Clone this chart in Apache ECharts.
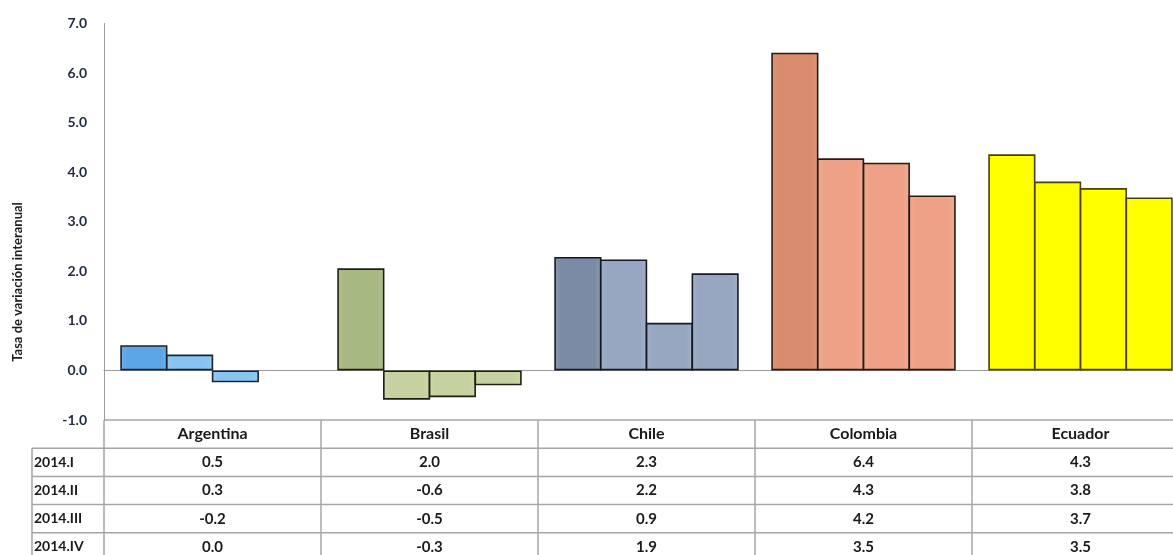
<!DOCTYPE html>
<html>
<head>
<meta charset="utf-8">
<script src="https://cdn.jsdelivr.net/npm/echarts@6/dist/echarts.min.js"></script>
<style>
html,body{margin:0;padding:0;background:#fff;overflow:hidden;}
#c{width:1190px;height:555px;}
</style>
</head>
<body>
<div id="c"></div>
<script>
var countries = ['Argentina', 'Brasil', 'Chile', 'Colombia', 'Ecuador'];
var quarters = ['2014.I', '2014.II', '2014.III', '2014.IV'];
// bar heights (per quarter, per country)
var q1 = [0.51, 2.06, 2.29, 6.41, 4.36];
var q2 = [0.32, -0.59, 2.24, 4.28, 3.81];
var q3 = [-0.24, -0.54, 0.96, 4.19, 3.68];
var q4 = [0.0, -0.30, 1.96, 3.53, 3.49];
// table texts
var t1 = ['0.5', '2.0', '2.3', '6.4', '4.3'];
var t2 = ['0.3', '-0.6', '2.2', '4.3', '3.8'];
var t3 = ['-0.2', '-0.5', '0.9', '4.2', '3.7'];
var t4 = ['0.0', '-0.3', '1.9', '3.5', '3.5'];
var yTicks = [-1, 0, 1, 2, 3, 4, 5, 6, 7];
var yTitle = 'Tasa de variación interanual';

var firstColors = ['#5DA5E6', '#A8B883', '#7B8BA5', '#D98B6D', '#FFFF00'];
var restColors  = ['#88C4F2', '#C5D29F', '#97A7C1', '#EFA187', '#FFFF00'];
var borderColors = ['#1b2430', '#1d2010', '#131a26', '#2a1a12', '#4a4000'];

var FONT = 'Lato, "Open Sans", sans-serif';
var chart = echarts.init(document.getElementById('c'), null, {renderer: 'canvas'});

function grad(c) {
  var l = echarts.color.lift(c, 0.12);
  return new echarts.graphic.LinearGradient(0, 0, 1, 0, [
    {offset: 0, color: l}, {offset: 0.15, color: c}, {offset: 0.85, color: c}, {offset: 1, color: l}
  ]);
}

var seriesVals = [q1, q2, q3, q4];
var series = seriesVals.map(function (vals, qi) {
  return {
    name: quarters[qi],
    type: 'bar',
    barGap: '-3%',
    barCategoryGap: '15%',
    data: vals.map(function (v, ci) {
      var col = qi === 0 ? firstColors[ci] : restColors[ci];
      return {
        value: v,
        itemStyle: {
          color: ci === 4 ? col : grad(col),
          borderColor: borderColors[ci],
          borderWidth: v === 0 ? 0 : 1.6
        }
      };
    })
  };
});

chart.setOption({
  animation: false,
  backgroundColor: '#fff',
  grid: {left: 104, top: 23.5, width: 1085, height: 396.5, containLabel: false},
  xAxis: {
    type: 'category',
    data: countries,
    axisLine: {onZero: true, lineStyle: {color: '#9a9a9a', width: 1}},
    axisTick: {show: false},
    axisLabel: {show: false},
    splitLine: {show: false}
  },
  yAxis: {
    type: 'value',
    min: yTicks[0],
    max: yTicks[yTicks.length - 1],
    interval: 1,
    axisLine: {show: true, lineStyle: {color: '#9a9a9a', width: 1}},
    axisTick: {show: false},
    splitLine: {show: false},
    axisLabel: {
      margin: 17,
      color: '#1f2a3a',
      fontFamily: FONT,
      fontWeight: 'bold',
      fontSize: 14,
      formatter: function (v) { return v.toFixed(1); }
    }
  },
  series: series
});

// Build the data table under the chart, aligned to the category axis
var xs = countries.map(function (c) { return chart.convertToPixel({xAxisIndex: 0}, c); });
var catW = xs[1] - xs[0];
var leftX = xs[0] - catW / 2;
var tableTop = chart.convertToPixel({yAxisIndex: 0}, yTicks[0]);
var rowH = 28.2;
var labelLeft = 32;
var lineColor = '#a6a6a6';
var g = [];
function hline(x1, x2, y) {
  g.push({type: 'line', shape: {x1: x1, y1: y, x2: x2, y2: y}, style: {stroke: lineColor, lineWidth: 1.5}, silent: true});
}
function vline(x, y1, y2) {
  g.push({type: 'line', shape: {x1: x, y1: y1, x2: x, y2: y2}, style: {stroke: lineColor, lineWidth: 1.5}, silent: true});
}
function txt(x, y, s, align, size) {
  g.push({type: 'text', x: x, y: y, silent: true, style: {
    text: s, x: 0, y: 0, align: align, verticalAlign: 'middle',
    font: 'bold ' + size + 'px ' + FONT, fill: '#1a1a1a'
  }});
}
var rightX = leftX + catW * countries.length + 5;
hline(leftX, rightX, tableTop);
for (var r = 1; r <= 4; r++) hline(labelLeft, rightX, tableTop + rowH * r);
vline(labelLeft, tableTop + rowH, 560);
vline(leftX, tableTop, 560);
for (var i = 1; i < countries.length; i++) vline(leftX + catW * i, tableTop, 560);
countries.forEach(function (c, i) { txt(xs[i], tableTop + rowH / 2, c, 'center', 16); });
var tables = [t1, t2, t3, t4];
tables.forEach(function (row, ri) {
  var cy = tableTop + rowH * (ri + 1) + rowH / 2;
  txt(labelLeft + 2, cy, quarters[ri], 'left', 14);
  row.forEach(function (s, ci) { txt(xs[ci], cy, s, 'center', 15); });
});
// rotated y axis title
g.push({type: 'text', x: 18, y: 282, rotation: Math.PI / 2, silent: true, style: {
  text: yTitle, x: 0, y: 0, align: 'center', verticalAlign: 'middle',
  font: 'bold 13px ' + FONT, fill: '#1a1a1a'
}});
chart.setOption({graphic: g});
</script>
</body>
</html>
